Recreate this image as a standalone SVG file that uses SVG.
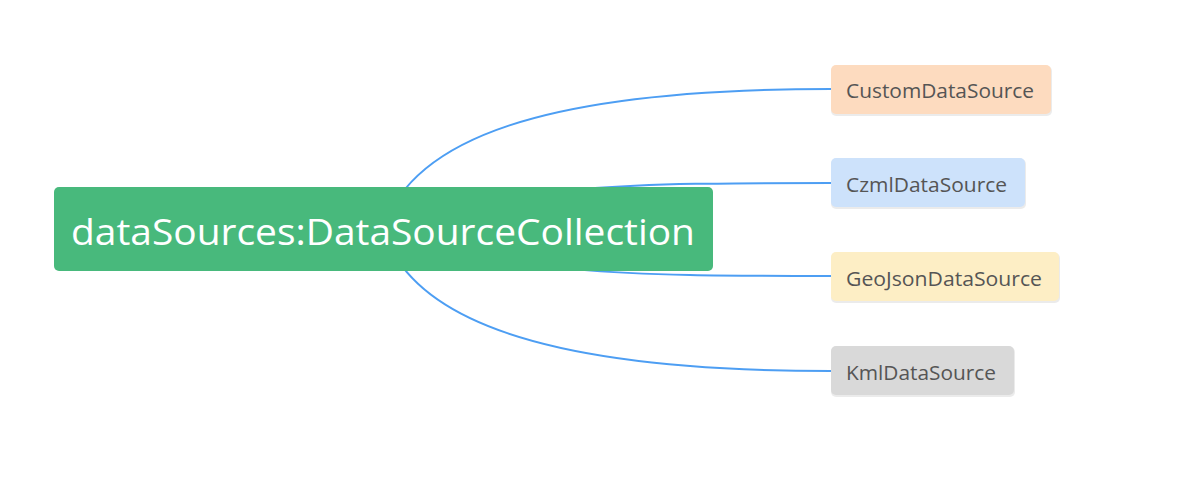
<svg xmlns="http://www.w3.org/2000/svg" width="1183" height="492" viewBox="0 0 1183 492">
<defs>
<style>
.conn{fill:none;stroke:#4d9ef3;stroke-width:2}
.child{stroke:none}
.shadow{fill:#000;opacity:0.08}
.ct{font-family:"Open Sans","Noto Sans","Liberation Sans",sans-serif;font-size:19.5px;fill:#555555}
.mt{font-family:"Open Sans","Noto Sans","Liberation Sans",sans-serif;font-size:37px;fill:#ffffff}
</style>
</defs>
<rect width="1183" height="492" fill="#ffffff"/>
<g id="connectors">
<path class="conn" d="M383,229 C412,140 540,89 831,89"/>
<path class="conn" d="M383,229 C520,184 630,183 831,183"/>
<path class="conn" d="M383,229 C510,274 620,276 831,276"/>
<path class="conn" d="M383,229 C410,318 540,371 831,371"/>
</g>
<g id="root">
<rect x="54" y="187" width="659" height="84" rx="5" fill="#48b97c"/>
<text class="mt" x="71" y="245" textLength="624" lengthAdjust="spacingAndGlyphs">dataSources:DataSourceCollection</text>
</g>
<g id="custom">
<rect class="shadow" x="831" y="66" width="221" height="50" rx="5"/>
<rect class="child" x="831" y="65" width="220" height="49" rx="5" fill="#fddbbf"/>
<text class="ct" x="846" y="98" textLength="188" lengthAdjust="spacingAndGlyphs">CustomDataSource</text>
</g>
<g id="czml">
<rect class="shadow" x="831" y="159" width="195" height="50" rx="5"/>
<rect class="child" x="831" y="158" width="194" height="49" rx="5" fill="#cde2fb"/>
<text class="ct" x="846" y="192" textLength="161" lengthAdjust="spacingAndGlyphs">CzmlDataSource</text>
</g>
<g id="geojson">
<rect class="shadow" x="831" y="253" width="229" height="50" rx="5"/>
<rect class="child" x="831" y="252" width="228" height="49" rx="5" fill="#fdeec5"/>
<text class="ct" x="846" y="286" textLength="196" lengthAdjust="spacingAndGlyphs">GeoJsonDataSource</text>
</g>
<g id="kml">
<rect class="shadow" x="831" y="347" width="184" height="50" rx="5"/>
<rect class="child" x="831" y="346" width="183" height="49" rx="5" fill="#d9d9d9"/>
<text class="ct" x="846" y="380" textLength="150" lengthAdjust="spacingAndGlyphs">KmlDataSource</text>
</g>
</svg>
